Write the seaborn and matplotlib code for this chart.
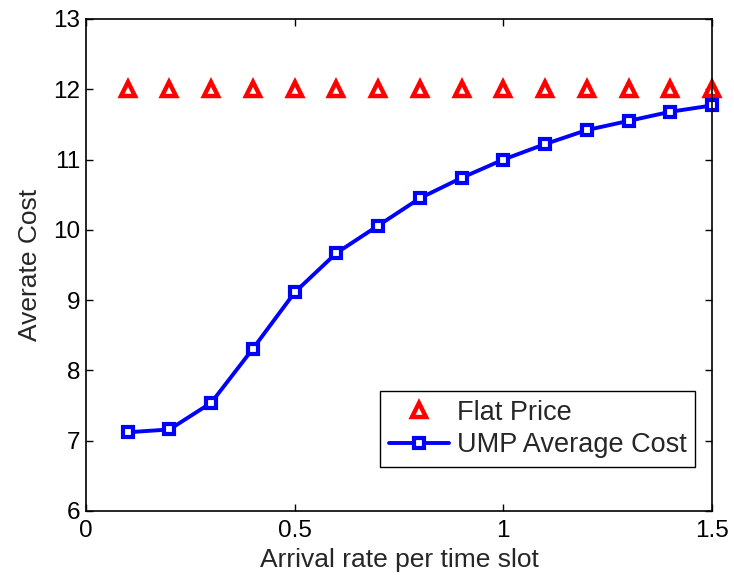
import matplotlib
matplotlib.use("Agg")
import matplotlib.pyplot as plt
import seaborn as sns
import pandas as pd

arrival = [0.1, 0.2, 0.3, 0.4, 0.5, 0.6, 0.7, 0.8, 0.9, 1.0, 1.1, 1.2, 1.3, 1.4, 1.5]
flat_price = [12] * 15
ump_cost = [7.12, 7.16, 7.54, 8.31, 9.11, 9.67, 10.06, 10.45, 10.74, 11.0, 11.22, 11.42, 11.55, 11.68, 11.77]
xticks = [0, 0.5, 1, 1.5]
xticklabels = ["0", "0.5", "1", "1.5"]
yticks = [6, 7, 8, 9, 10, 11, 12, 13]

sns.set_style("white")
plt.rcParams['font.family'] = ['Liberation Sans', 'DejaVu Sans']

df = pd.DataFrame({"x": arrival, "flat": flat_price, "ump": ump_cost})

fig = plt.figure(figsize=(7.34, 5.81), dpi=100)
ax = fig.add_axes([0.1172, 0.1205, 0.8528, 0.8468])

sns.lineplot(data=df, x="x", y="flat", ax=ax, linestyle="none", marker="^",
             markersize=10, markerfacecolor="white", markeredgecolor="red",
             markeredgewidth=3.2, color="red", label="Flat Price", clip_on=False)
sns.lineplot(data=df, x="x", y="ump", ax=ax, color="blue", linewidth=2.8,
             marker="s", markersize=6.5, markerfacecolor="white",
             markeredgecolor="blue", markeredgewidth=3.0, label="UMP Average Cost",
             clip_on=False)

ax.set_xlim(0, 1.5)
ax.set_ylim(6, 13)
ax.set_xticks(xticks)
ax.set_xticklabels(xticklabels)
ax.set_yticks(yticks)
ax.tick_params(direction="in", length=5, width=1, labelsize=17.5, top=True, right=True,
               bottom=True, left=True, colors="black")
ax.tick_params(axis="x", pad=6.5)
ax.tick_params(axis="y", pad=4)
for s in ax.spines.values():
    s.set_color("black")
    s.set_linewidth(1.2)
ax.set_xlabel("Arrival rate per time slot", fontsize=19)
ax.set_ylabel("Averate Cost", fontsize=19)
ax.xaxis.set_label_coords(0.5, -0.075)
ax.yaxis.set_label_coords(-0.070, 0.5)

leg = ax.legend(loc="lower right", bbox_to_anchor=(0.973, 0.0894), borderaxespad=0,
                fontsize=19.5, frameon=True, fancybox=False, edgecolor="black", framealpha=1,
                handlelength=2.2, handletextpad=0.3, borderpad=0.32, labelspacing=0.25)
leg.get_frame().set_linewidth(1)

fig.savefig("out.png", dpi=100)
